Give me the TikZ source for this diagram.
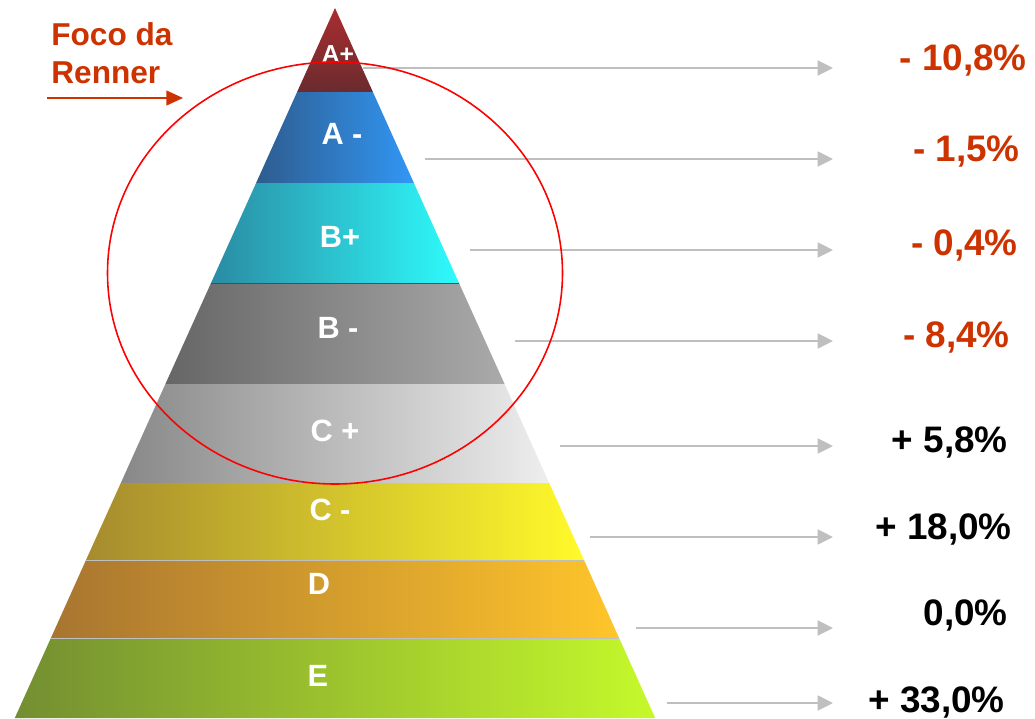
\documentclass[tikz,border=0pt]{standalone}
\usepackage{fontspec}
\setmainfont{Liberation Sans}
\usetikzlibrary{arrows.meta, positioning}
\definecolor{rennerred}{HTML}{CC3300}
\definecolor{trendgray}{HTML}{BFBFBF}
\definecolor{aptop}{HTML}{A92D30}
\definecolor{apbot}{HTML}{6A2B2E}
\definecolor{amleft}{HTML}{2E5C8E}
\definecolor{amright}{HTML}{3197F5}
\definecolor{bpleft}{HTML}{2A8BA3}
\definecolor{bpright}{HTML}{2EFBFC}
\definecolor{bmleft}{HTML}{666666}
\definecolor{bmright}{HTML}{AAAAAA}
\definecolor{cpleft}{HTML}{888888}
\definecolor{cpright}{HTML}{EEEEEE}
\definecolor{cmleft}{HTML}{A68B2E}
\definecolor{cmright}{HTML}{FFFA2B}
\definecolor{dleft}{HTML}{A87530}
\definecolor{dright}{HTML}{FFC52B}
\definecolor{eleft}{HTML}{738E31}
\definecolor{eright}{HTML}{C5F92B}
\tikzset{
  classlbl/.style ={text=white, font=\bfseries\fontsize{17.5}{20}\selectfont,
                    inner sep=0pt},
  pctneg/.style   ={text=rennerred, font=\bfseries\fontsize{21}{24}\selectfont,
                    anchor=east, inner sep=0pt},
  pctpos/.style   ={pctneg, text=black},
  trend/.style    ={-{Triangle[length=8.7pt,width=8.5pt]}, line width=1.1pt,
                    draw=trendgray},
  focusarrow/.style={-{Triangle[length=9.5pt,width=8.5pt]}, line width=0.8pt,
                    draw=rennerred},
  focusring/.style={draw=red, line width=0.9pt}
}

\begin{document}
\begin{tikzpicture}[x=0.02cm, y=-0.02cm]
  \useasboundingbox (0,0) rectangle (1035,718);

  % pyramid bands
  \shade[top color=aptop, bottom color=apbot]
    (335,8) -- (372.9,92) -- (297.1,92) -- cycle;
  \shade[left color=amleft, right color=amright]
    (297.1,92) -- (372.9,92) -- (413.9,183) -- (256.1,183) -- cycle;
  \shade[left color=bpleft, right color=bpright]
    (256.1,183) -- (413.9,183) -- (459.0,283) -- (211.0,283) -- cycle;
  \shade[left color=bmleft, right color=bmright]
    (211.0,283) -- (459.0,283) -- (504.6,384) -- (165.4,384) -- cycle;
  \shade[left color=cpleft, right color=cpright]
    (165.4,384) -- (504.6,384) -- (549.2,483) -- (120.8,483) -- cycle;
  \shade[left color=cmleft, right color=cmright]
    (120.8,483) -- (549.2,483) -- (584.0,560) -- (86.0,560) -- cycle;
  \shade[left color=dleft, right color=dright]
    (86.0,560) -- (584.0,560) -- (619.1,638) -- (50.9,638) -- cycle;
  \shade[left color=eleft, right color=eright]
    (50.9,638) -- (619.1,638) -- (655.2,718) -- (14.8,718) -- cycle;
  \draw[black!70, line width=0.5pt] (211.0,283) -- (459.0,283);
  \draw[white!75!black, line width=0.4pt] (86.0,560) -- (584.0,560);
  \draw[white!75!black, line width=0.4pt] (50.9,638) -- (619.1,638);

  % class labels
  \node[classlbl, font=\bfseries\fontsize{14}{16}\selectfont] (ap) at (338,54) {A+};
  \node[classlbl] (am) at (342,134) {A -};
  \node[classlbl] (bp) at (340,237) {B+};
  \node[classlbl] (bm) at (338,328) {B -};
  \node[classlbl] (cp) at (335,431) {C +};
  \node[classlbl] (cm) at (330,510) {C -};
  \node[classlbl] (d)  at (319,584) {D};
  \node[classlbl] (e)  at (318,676) {E};

  % variation
  \node[pctneg] (vap) at (1027,60)  {- 10,8\%};
  \node[pctneg] (vam) at (1020,152) {- 1,5\%};
  \node[pctneg] (vbp) at (1018,245) {- 0,4\%};
  \node[pctneg] (vbm) at (1010,337) {- 8,4\%};
  \node[pctpos] (vcp) at (1008,442) {+ 5,8\%};
  \node[pctpos] (vcm) at (1012,529) {+ 18,0\%};
  \node[pctpos] (vd)  at (1008,615) {0,0\%};
  \node[pctpos] (ve)  at (1005,702) {+ 33,0\%};

  \coordinate (sap) at (363,68);  \coordinate (tap) at (833,68);
  \coordinate (sam) at (425,159); \coordinate (tam) at (833,159);
  \coordinate (sbp) at (470,250); \coordinate (tbp) at (833,250);
  \coordinate (sbm) at (515,341); \coordinate (tbm) at (833,341);
  \coordinate (scp) at (560,446); \coordinate (tcp) at (833,446);
  \coordinate (scm) at (590,537); \coordinate (tcm) at (833,537);
  \coordinate (sd)  at (636,628); \coordinate (td)  at (833,628);
  \coordinate (se)  at (667,703); \coordinate (te)  at (833,703);

  \draw[trend] (sap) -- (tap);
  \draw[trend] (sam) -- (tam);
  \draw[trend] (sbp) -- (tbp);
  \draw[trend] (sbm) -- (tbm);
  \draw[trend] (scp) -- (tcp);
  \draw[trend] (scm) -- (tcm);
  \draw[trend] (sd)  -- (td);
  \draw[trend] (se)  -- (te);

  % focus
  \draw[focusring] (335,273) ellipse [x radius=227.5, y radius=211];
  \node[text=rennerred, font=\bfseries\fontsize{18}{21.6}\selectfont,
        align=left, anchor=north west, inner sep=0pt] (foco) at (51,22)
        {Foco da\\Renner};
  \coordinate (fs) at (47,98);
  \coordinate (fe) at (183,98);
  \draw[focusarrow] (fs) -- (fe);

\end{tikzpicture}
\end{document}
